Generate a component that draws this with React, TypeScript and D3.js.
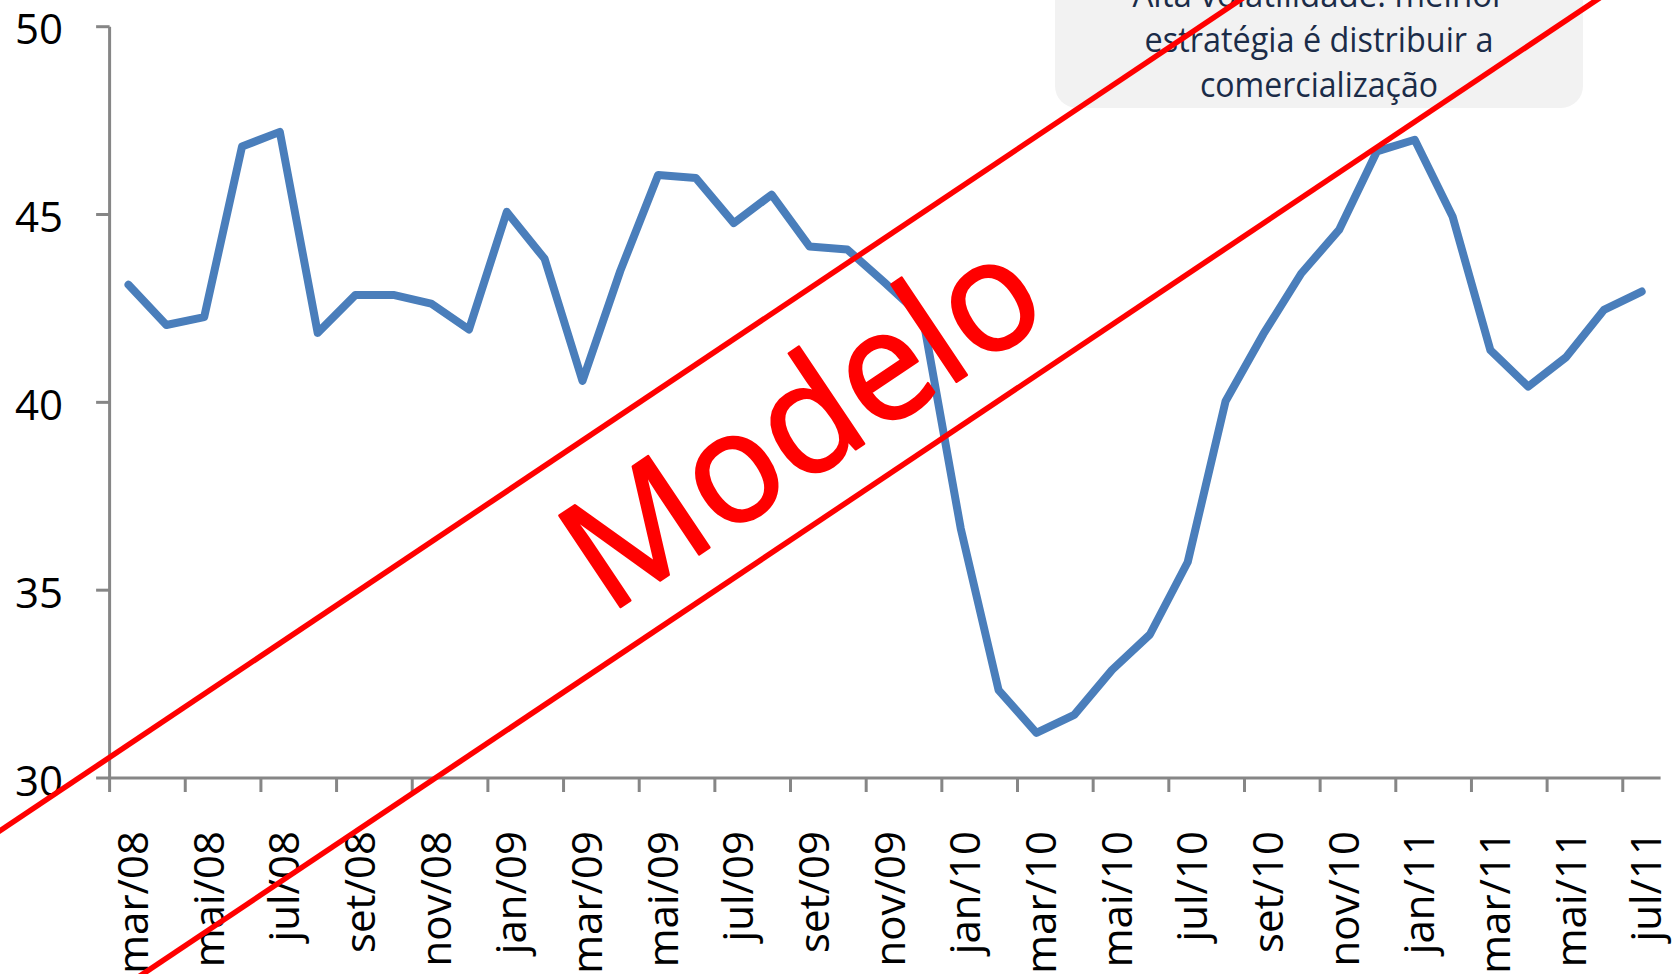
import React from "react";
import * as d3 from "d3";

const months: string[] = [
  "mar/08","abr/08","mai/08","jun/08","jul/08","ago/08","set/08","out/08","nov/08","dez/08",
  "jan/09","fev/09","mar/09","abr/09","mai/09","jun/09","jul/09","ago/09","set/09","out/09","nov/09","dez/09",
  "jan/10","fev/10","mar/10","abr/10","mai/10","jun/10","jul/10","ago/10","set/10","out/10","nov/10","dez/10",
  "jan/11","fev/11","mar/11","abr/11","mai/11","jun/11","jul/11",
];

const values: number[] = [
  43.13, 42.06, 42.27, 46.81, 47.2, 41.85, 42.86, 42.86, 42.63, 41.94,
  45.07, 43.82, 40.57, 43.5, 46.05, 45.97, 44.77, 45.53, 44.15, 44.07, 43.18, 42.25,
  36.64, 32.34, 31.2, 31.68, 32.88, 33.82, 35.75, 40.03, 41.82, 43.43, 44.59, 46.68,
  46.99, 44.95, 41.39, 40.42, 41.2, 42.46, 42.95,
];

const yTicks: number[] = [30, 35, 40, 45, 50];

const noteLines: string[] = [
  "Alta volatilidade: melhor",
  "estratégia é distribuir a",
  "comercialização",
];
const noteWidths: number[] = [373, 349, 238];

const watermark = "Modelo";

const W = 1674;
const H = 974;
const AXIS = "#868686";
const BLUE = "#4a7ebb";
const RED = "#ff0000";

export default function App() {
  const x = d3.scaleLinear().domain([0, months.length]).range([109.6, 1660.6]);
  const y = d3.scaleLinear().domain([30, 50]).range([778, 26.7]);

  const line = d3
    .line<number>()
    .x((_, i) => x(i + 0.5))
    .y((v) => y(v));

  const tickIdx = d3.range(0, months.length + 1, 2).filter((i) => i < months.length);
  const labelIdx = d3.range(0, months.length, 2);

  const angle = (Math.atan(0.67) * 180) / Math.PI;

  return (
    <svg
      width={W}
      height={H}
      style={{ position: "absolute", left: 0, top: 0, background: "#fff" }}
    >
      {/* annotation box */}
      <rect x={1055} y={-60} width={528} height={168} rx={22} ry={22} fill="#f2f2f2" />
      {noteLines.map((t, i) => (
        <text
          key={t}
          x={1319}
          y={6.5 + i * 45}
          textAnchor="middle"
          fontFamily="'Open Sans', sans-serif"
          fontSize={34}
          fill="#1b2c48"
          textLength={noteWidths[i]}
          lengthAdjust="spacingAndGlyphs"
        >
          {t}
        </text>
      ))}

      {/* y axis */}
      <line x1={x(0)} x2={x(0)} y1={y(50)} y2={y(30)} stroke={AXIS} strokeWidth={3} />
      {yTicks.map((v) => (
        <g key={v}>
          <line x1={x(0) - 13.5} x2={x(0)} y1={y(v)} y2={y(v)} stroke={AXIS} strokeWidth={3} />
          <text
            x={63}
            y={y(v) + 17.5}
            textAnchor="end"
            fontFamily="'Open Sans', sans-serif"
            fontSize={42}
            fill="#000"
          >
            {v}
          </text>
        </g>
      ))}

      {/* x axis */}
      <line x1={x(0) - 1.5} x2={x(months.length)} y1={y(30)} y2={y(30)} stroke={AXIS} strokeWidth={3} />
      {tickIdx.map((i) => (
        <line key={i} x1={x(i)} x2={x(i)} y1={y(30)} y2={y(30) + 14} stroke={AXIS} strokeWidth={3} />
      ))}
      {labelIdx.map((i) => {
        const cx = x(i + 0.5) + 19.5;
        const cy = 831;
        return (
          <text
            key={i}
            transform={`translate(${cx},${cy}) rotate(-90)`}
            textAnchor="end"
            fontFamily="'Open Sans', sans-serif"
            fontSize={42}
            fill="#000"
          >
            {months[i]}
          </text>
        );
      })}

      {/* data line */}
      <path
        d={line(values) || ""}
        fill="none"
        stroke={BLUE}
        strokeWidth={8}
        strokeLinejoin="round"
        strokeLinecap="round"
      />

      {/* watermark */}
      <g transform={`translate(831,466) rotate(${-angle})`}>
        <line x1={-1400} x2={1400} y1={39} y2={39} stroke={RED} strokeWidth={5.5} />
        <line x1={-1400} x2={1400} y1={-159.5} y2={-159.5} stroke={RED} strokeWidth={5.5} />
        <text
          x={0}
          y={0}
          textAnchor="middle"
          fontFamily="'Open Sans', sans-serif"
          fontSize={154}
          fontWeight={500}
          fill={RED}
          stroke={RED}
          strokeWidth={2.5}
          strokeLinejoin="round"
          textLength={536}
          lengthAdjust="spacingAndGlyphs"
        >
          {watermark}
        </text>
      </g>
    </svg>
  );
}
